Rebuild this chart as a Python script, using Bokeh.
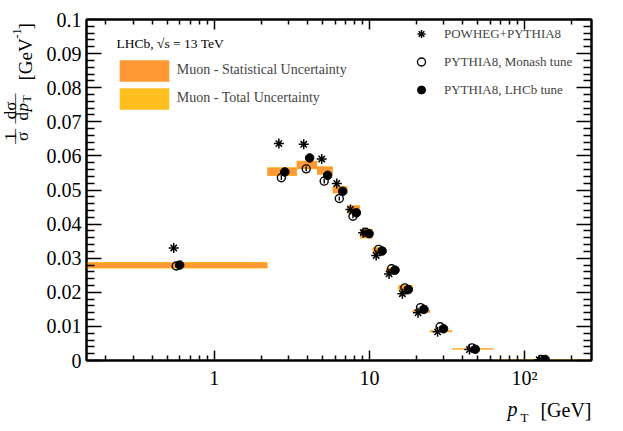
import math
from bokeh.plotting import figure
from bokeh.layouts import row, column
from bokeh.models import (LogAxis, LinearAxis, FixedTicker, Label, Legend, LegendItem)
from bokeh.embed import file_html
from bokeh.resources import INLINE

# ---------------- data ----------------
pt_edges = [0.0, 2.2, 3.4, 4.6, 5.8, 7.2, 8.7, 10.5, 12.8, 15.4, 19.0, 24.5, 34.0, 63.0, 270.0]
data_val = [0.0279, 0.0554, 0.0573, 0.0557, 0.0501, 0.0443, 0.0372, 0.0323, 0.0265, 0.0213,
            0.0144, 0.0086, 0.0034, 0.0003]
stat_err = [0.0008, 0.00115, 0.0011, 0.0011, 0.00097, 0.00105, 0.0013, 0.00075, 0.00065, 0.0007,
            0.0004, 0.00022, 0.00012, 0.00004]
tot_err = [0.00095, 0.0013, 0.00125, 0.00125, 0.0011, 0.0012, 0.00145, 0.0009, 0.0008, 0.00082,
           0.0005, 0.0003, 0.00017, 0.00006]
powheg = [0.0330, 0.0636, 0.0634, 0.0591, 0.0519, 0.0443, 0.0375, 0.0308, 0.0254, 0.0196,
          0.0140, 0.0084, 0.0032, 0.0002]
monash = [0.0277, 0.0536, 0.0562, 0.0526, 0.0475, 0.0423, 0.0376, 0.0326, 0.0269, 0.0213,
          0.0155, 0.0099, 0.0037, 0.0003]
lhcb_tune = [0.0280, 0.0553, 0.0594, 0.0543, 0.0496, 0.0433, 0.0372, 0.0321, 0.0265, 0.0208,
             0.0150, 0.0093, 0.0033, 0.0003]
model_err = [0.0004, 0.0007, 0.0007, 0.0007, 0.0006, 0.0006, 0.0005, 0.0005, 0.0004, 0.0004,
             0.0003, 0.0002, 0.0001, 0.00002]

x_ticks = [1, 10, 100]
x_tick_labels = ["1", "10", "10\u00b2"]
y_ticks = [0, 0.01, 0.02, 0.03, 0.04, 0.05, 0.06, 0.07, 0.08, 0.09, 0.1]
y_tick_labels = ["0", "0.01", "0.02", "0.03", "0.04", "0.05", "0.06", "0.07", "0.08", "0.09", "0.1"]

series_names = ["POWHEG+PYTHIA8", "PYTHIA8, Monash tune", "PYTHIA8, LHCb tune"]
band_names = ["Muon - Statistical Uncertainty", "Muon - Total Uncertainty"]

# ---------------- styling constants ----------------
X_MIN, X_MAX = 0.15, 270.0
ORANGE = "#FF9933"
YELLOW = "#FFBF1F"
FONT = "Liberation Serif"
YT_W = 40          # width of the strip holding the y-axis title
B_TOP, B_BOT, B_LEFT, B_RIGHT = 19, 34, 46, 15
FR_W, FR_H = 505, 341
MAIN_H = B_TOP + FR_H + B_BOT
XT_H = 30          # height of the strip holding the x-axis title
XS_TOP = 400       # page y where the x-title strip starts (as laid out)

lo = [max(e, X_MIN) for e in pt_edges[:-1]]
hi = pt_edges[1:]
xc = [math.sqrt(a * b) for a, b in zip(lo, hi)]
x_star = [x * 0.953 for x in xc]
x_open = [x * 0.989 for x in xc]
x_fill = [x * 1.041 for x in xc]

p = figure(frame_width=FR_W, frame_height=FR_H, x_axis_type="log", x_range=(X_MIN, X_MAX),
           y_range=(0, 0.1), output_backend="svg", toolbar_location=None,
           min_border_left=B_LEFT, min_border_right=B_RIGHT, min_border_top=B_TOP,
           min_border_bottom=B_BOT)
p.xgrid.visible = False
p.ygrid.visible = False
p.outline_line_color = "black"
p.outline_line_width = 2
p.background_fill_color = "white"
p.border_fill_color = "white"

# bands
r_tot = p.quad(left=lo, right=hi, bottom=[v - e for v, e in zip(data_val, tot_err)],
               top=[v + e for v, e in zip(data_val, tot_err)], fill_color=YELLOW, line_color=None)
r_stat = p.quad(left=lo, right=hi, bottom=[v - e for v, e in zip(data_val, stat_err)],
                top=[v + e for v, e in zip(data_val, stat_err)], fill_color=ORANGE, line_color=None)

# POWHEG stars
p.segment(x0=x_star, x1=x_star, y0=[v - e for v, e in zip(powheg, model_err)],
          y1=[v + e for v, e in zip(powheg, model_err)], line_color="black", line_width=1.4)
r_s1 = p.scatter(x_star, powheg, marker="cross", size=10, line_color="black", line_width=1.5)
r_s2 = p.scatter(x_star, powheg, marker="x", size=9, line_color="black", line_width=1.5)

# Monash open circles
p.segment(x0=x_open, x1=x_open, y0=[v - e for v, e in zip(monash, model_err)],
          y1=[v + e for v, e in zip(monash, model_err)], line_color="black", line_width=1.4)
r_o = p.scatter(x_open, monash, marker="circle", size=8, fill_color=None, line_color="black",
                line_width=1.4)

# LHCb tune filled circles
p.segment(x0=x_fill, x1=x_fill, y0=[v - e for v, e in zip(lhcb_tune, model_err)],
          y1=[v + e for v, e in zip(lhcb_tune, model_err)], line_color="black", line_width=1.4)
r_f = p.scatter(x_fill, lhcb_tune, marker="circle", size=8.5, fill_color="black", line_color="black")

# ---------------- axes ----------------
x_minor = [m * d for d in (0.1, 1, 10) for m in range(2, 10)] + [200]
y_minor = [round(i * 0.002, 3) for i in range(51) if i % 5 != 0]
xt = FixedTicker(ticks=x_ticks, minor_ticks=x_minor)
yt = FixedTicker(ticks=y_ticks, minor_ticks=y_minor)


def style(ax, major, minor):
    ax.axis_line_width = 2
    ax.axis_line_color = "black"
    ax.major_tick_in = major
    ax.major_tick_out = 0
    ax.minor_tick_in = minor
    ax.minor_tick_out = 0
    ax.major_tick_line_width = 1.5
    ax.minor_tick_line_width = 1.5
    ax.major_label_text_font = FONT
    ax.major_label_text_font_size = "20px"
    ax.major_label_text_color = "black"


xa = p.xaxis[0]
xa.ticker = xt
xa.major_label_overrides = dict(zip(x_ticks, x_tick_labels))
style(xa, 10, 5)
xa.major_label_standoff = 6

ya = p.yaxis[0]
ya.ticker = yt
ya.major_label_overrides = dict(zip(y_ticks, y_tick_labels))
style(ya, 15, 8)
ya.major_label_standoff = 5

top = LogAxis(ticker=xt)
style(top, 10, 5)
top.major_label_text_font_size = "1px"
top.major_label_text_alpha = 0
top.major_label_standoff = 0
p.add_layout(top, "above")

right = LinearAxis(ticker=yt)
style(right, 15, 8)
right.major_label_text_font_size = "1px"
right.major_label_text_alpha = 0
right.major_label_standoff = 0
p.add_layout(right, "right")


def lab(fig, ox, oy, text, px, py, size, align="left", baseline="alphabetic", angle=0.0,
        style="normal"):
    # px, py: page position; (ox, oy): page position of the figure frame's bottom-left corner
    fig.add_layout(Label(x=px - ox, y=oy - py, x_units="screen", y_units="screen", text=text,
                         text_font=FONT, text_font_size=f"{size}px", text_align=align,
                         text_baseline=baseline, angle=angle, text_font_style=style,
                         text_color="black"))


# experiment label inside the main frame (frame bottom-left at page (87, 361))
lab(p, 87, 361, "LHCb, \u221as = 13 TeV", 117, 44, 13.5, "left", "middle")

# ---------------- legends ----------------
leg1 = Legend(items=[LegendItem(label=band_names[0], renderers=[r_stat]),
                     LegendItem(label=band_names[1], renderers=[r_tot])],
              location=(113.8 - 87, 361 - 112.5), padding=0, margin=0, spacing=1,
              glyph_width=62, glyph_height=27, label_standoff=2,
              label_text_font=FONT, label_text_font_size="14px",
              border_line_color=None, background_fill_alpha=0)
leg2 = Legend(items=[LegendItem(label=series_names[0], renderers=[r_s1, r_s2]),
                     LegendItem(label=series_names[1], renderers=[r_o]),
                     LegendItem(label=series_names[2], renderers=[r_f])],
              location=(412 - 87, 361 - 104), padding=0, margin=0, spacing=1,
              glyph_width=20, glyph_height=27, label_standoff=13,
              label_text_font=FONT, label_text_font_size="13px",
              border_line_color=None, background_fill_alpha=0)
p.add_layout(leg1)
p.add_layout(leg2)


def strip(w, h):
    f = figure(width=w, height=h, output_backend="svg", toolbar_location=None,
               x_axis_location=None, y_axis_location=None,
               min_border_left=0, min_border_right=0, min_border_top=0, min_border_bottom=0)
    f.outline_line_color = None
    f.xgrid.visible = False
    f.ygrid.visible = False
    return f


# ---------------- y-axis title strip (frame aligned with the main frame: page y 20..361) ----------------
ys = strip(YT_W, MAIN_H)
OX, OY = 1, 361
R = math.pi / 2
lab(ys, OX, OY, "1", 11, 137, 17, "center", "alphabetic", R)
lab(ys, OX, OY, "\u2014", 14, 137, 15, "center", "middle", R)
lab(ys, OX, OY, "\u03c3", 23, 137, 17, "center", "alphabetic", R)
lab(ys, OX, OY, "d\u03c3", 11, 111, 17, "center", "alphabetic", R)
lab(ys, OX, OY, "\u2014\u2014", 14, 109, 15, "center", "middle", R)
lab(ys, OX, OY, "d", 23, 121, 17, "left", "alphabetic", R)
lab(ys, OX, OY, "p", 23, 112, 17, "left", "alphabetic", R, "italic")
lab(ys, OX, OY, "T", 27, 103, 12, "left", "alphabetic", R)
lab(ys, OX, OY, "[GeV", 26, 81, 19, "left", "alphabetic", R)
lab(ys, OX, OY, "-1", 17, 39, 12, "left", "alphabetic", R)
lab(ys, OX, OY, "]", 26, 30, 19, "left", "alphabetic", R)

# ---------------- x-axis title strip (below the main figure) ----------------
xs = strip(YT_W + B_LEFT + FR_W + B_RIGHT, XT_H)
OX2, OY2 = 1, XS_TOP + XT_H
lab(xs, OX2, OY2, "p", 508, 414, 20, "left", "alphabetic", 0.0, "italic")
lab(xs, OX2, OY2, "T", 521, 423, 13, "left", "alphabetic")
lab(xs, OX2, OY2, "[GeV]", 592, 415, 20, "right", "alphabetic")

layout = column(row(ys, p, spacing=0), xs, spacing=0)

open("out.html", "w").write(file_html(layout, INLINE))
